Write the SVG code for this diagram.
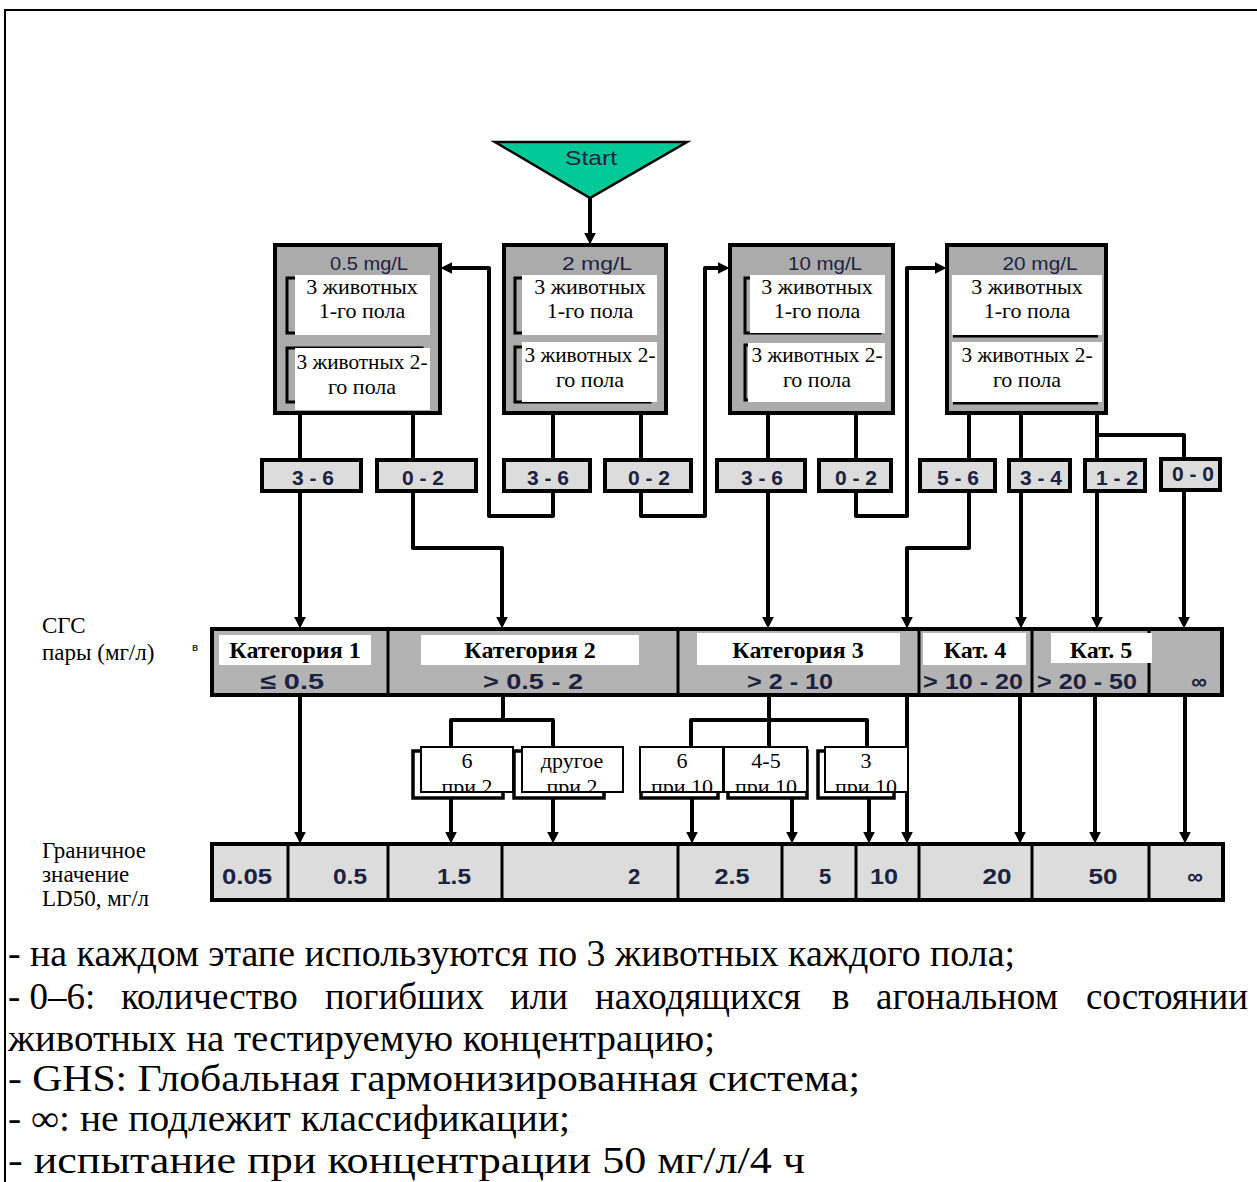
<svg xmlns="http://www.w3.org/2000/svg" width="1257" height="1182" viewBox="0 0 1257 1182">
<style>
.bg{fill:#ffffff}
.frame{fill:none;stroke:#000;stroke-width:2}
.box{fill:#ababab;stroke:#000;stroke-width:4}
.br{fill:none;stroke:#000;stroke-width:3}
.wh{fill:#ffffff;stroke:none}
.res{fill:#dcdcdc;stroke:#000;stroke-width:4}
.row{fill:#b3b3b3;stroke:#000;stroke-width:4}
.row2{fill:#dcdcdc;stroke:#000;stroke-width:4}
.div{stroke:#000;stroke-width:3}
.mfront{fill:#ffffff;stroke:#000;stroke-width:2}
.mback{fill:none;stroke:#000;stroke-width:3.5}
.con{fill:none;stroke:#000;stroke-width:4;stroke-linejoin:round}
.ser{font-family:"Liberation Serif","Times New Roman",serif;font-size:22px;fill:#000;text-anchor:middle}
.serl{font-family:"Liberation Serif","Times New Roman",serif;font-size:23px;fill:#000}
.catl{font-family:"Liberation Serif","Times New Roman",serif;font-size:24px;font-weight:bold;fill:#000;text-anchor:middle}
.sans{font-family:"Liberation Sans",Arial,sans-serif;fill:#1b2340;text-anchor:middle}
.ttl{font-size:18px}
.bs{font-size:21px;font-weight:bold}
.rg{font-size:22px;font-weight:bold}
.note{font-family:"Liberation Serif","Times New Roman",serif;font-size:37px;fill:#000}
</style>
<defs>
<marker id="ah" markerUnits="userSpaceOnUse" markerWidth="12" markerHeight="12" viewBox="0 0 10 10" refX="2" refY="5" orient="auto">
<path d="M0,0 L10,5 L0,10 z" fill="#000"/>
</marker>
<clipPath id="cA"><rect x="421" y="747" width="92" height="45"/></clipPath>
<clipPath id="cB"><rect x="522" y="747" width="101" height="45"/></clipPath>
<clipPath id="cC"><rect x="640" y="747" width="83" height="45"/></clipPath>
<clipPath id="cD"><rect x="724" y="747" width="83" height="45"/></clipPath>
<clipPath id="cE"><rect x="825" y="747" width="83" height="45"/></clipPath>
</defs>
<rect class="bg" x="0" y="0" width="1257" height="1182"/>
<path class="frame" d="M5,1182 V10 H1257"/>

<g id="connectors">
<path class="con" d="M590,198 V235" marker-end="url(#ah)"/>
<path class="con" d="M300,415 V458"/>
<path class="con" d="M413,415 V458"/>
<path class="con" d="M553,415 V458"/>
<path class="con" d="M641,415 V458"/>
<path class="con" d="M768,415 V458"/>
<path class="con" d="M856,415 V458"/>
<path class="con" d="M969,415 V458"/>
<path class="con" d="M1021,415 V458"/>
<path class="con" d="M1097,415 V458"/>
<path class="con" d="M1097,435 H1184 V457"/>
<path class="con" d="M553,493 V516 H489 V268 H450" marker-end="url(#ah)"/>
<path class="con" d="M641,493 V516 H705 V268 H720" marker-end="url(#ah)"/>
<path class="con" d="M856,493 V516 H907 V268 H937" marker-end="url(#ah)"/>
<path class="con" d="M300,493 V619" marker-end="url(#ah)"/>
<path class="con" d="M413,493 V548 H502 V619" marker-end="url(#ah)"/>
<path class="con" d="M768,493 V619" marker-end="url(#ah)"/>
<path class="con" d="M969,493 V548 H907 V619" marker-end="url(#ah)"/>
<path class="con" d="M1021,492 V619" marker-end="url(#ah)"/>
<path class="con" d="M1097,492 V619" marker-end="url(#ah)"/>
<path class="con" d="M1184,492 V619" marker-end="url(#ah)"/>
<path class="con" d="M300,697 V834" marker-end="url(#ah)"/>
<path class="con" d="M503,697 V720"/>
<path class="con" d="M451,750 V720 H553 V750"/>
<path class="con" d="M769,697 V750"/>
<path class="con" d="M691,750 V720 H867 V750"/>
<path class="con" d="M451,798 V834" marker-end="url(#ah)"/>
<path class="con" d="M553,798 V834" marker-end="url(#ah)"/>
<path class="con" d="M692,798 V834" marker-end="url(#ah)"/>
<path class="con" d="M792,798 V834" marker-end="url(#ah)"/>
<path class="con" d="M869,798 V834" marker-end="url(#ah)"/>
<path class="con" d="M907,697 V834" marker-end="url(#ah)"/>
<path class="con" d="M1020,697 V834" marker-end="url(#ah)"/>
<path class="con" d="M1095,697 V834" marker-end="url(#ah)"/>
<path class="con" d="M1185,697 V834" marker-end="url(#ah)"/>
</g>

<g id="start">
<path d="M495,142 L687,142 L590,198 Z" fill="#00c896" stroke="#000" stroke-width="2.5" stroke-linejoin="miter"/>
<text class="sans" x="591" y="165" font-size="21" textLength="52" lengthAdjust="spacingAndGlyphs">Start</text>
</g>

<g id="box-05">
<rect class="box" x="275" y="245" width="165" height="168"/>
<text class="sans ttl" x="369" y="270" textLength="78" lengthAdjust="spacingAndGlyphs">0.5 mg/L</text>
<rect class="br" x="287" y="278" width="135" height="55"/>
<rect class="wh" x="295" y="275" width="135" height="60"/>
<text class="ser" x="362" y="294">3 животных</text>
<text class="ser" x="362" y="318">1-го пола</text>
<rect class="br" x="287" y="348" width="135" height="54"/>
<rect class="wh" x="295" y="348" width="135" height="62"/>
<text class="ser" x="362" y="369" textLength="131" lengthAdjust="spacingAndGlyphs">3 животных 2-</text>
<text class="ser" x="362" y="394">го пола</text>
</g>

<g id="box-2">
<rect class="box" x="504" y="245" width="162" height="168"/>
<text class="sans ttl" x="597" y="270" textLength="70" lengthAdjust="spacingAndGlyphs">2  mg/L</text>
<rect class="br" x="515" y="278" width="135" height="55"/>
<rect class="wh" x="522" y="275" width="135" height="60"/>
<text class="ser" x="590" y="294">3 животных</text>
<text class="ser" x="590" y="318">1-го пола</text>
<rect class="br" x="515" y="347" width="135" height="55"/>
<rect class="wh" x="522" y="342" width="135" height="60"/>
<text class="ser" x="590" y="362" textLength="131" lengthAdjust="spacingAndGlyphs">3 животных 2-</text>
<text class="ser" x="590" y="387">го пола</text>
</g>

<g id="box-10">
<rect class="box" x="730" y="245" width="163" height="168"/>
<text class="sans ttl" x="825" y="270" textLength="74" lengthAdjust="spacingAndGlyphs">10 mg/L</text>
<rect class="br" x="745" y="278" width="135" height="55"/>
<rect class="wh" x="750" y="275" width="135" height="58"/>
<text class="ser" x="817" y="294">3 животных</text>
<text class="ser" x="817" y="318">1-го пола</text>
<rect class="br" x="745" y="345" width="135" height="55"/>
<rect class="wh" x="748" y="343" width="137" height="59"/>
<text class="ser" x="817" y="362" textLength="131" lengthAdjust="spacingAndGlyphs">3 животных 2-</text>
<text class="ser" x="817" y="387">го пола</text>
</g>

<g id="box-20">
<rect class="box" x="947" y="245" width="159" height="168"/>
<text class="sans ttl" x="1040" y="270" textLength="75" lengthAdjust="spacingAndGlyphs">20 mg/L</text>
<path d="M953,336 H1098" stroke="#000" stroke-width="3"/>
<rect class="wh" x="952" y="275" width="150" height="60"/>
<text class="ser" x="1027" y="294">3 животных</text>
<text class="ser" x="1027" y="318">1-го пола</text>
<path d="M953,403 H1098" stroke="#000" stroke-width="3"/>
<rect class="wh" x="952" y="342" width="150" height="60"/>
<text class="ser" x="1027" y="362" textLength="131" lengthAdjust="spacingAndGlyphs">3 животных 2-</text>
<text class="ser" x="1027" y="387">го пола</text>
</g>

<g id="results">
<g id="r1"><rect class="res" x="262" y="460" width="99" height="31"/><text class="sans bs" x="313" y="485">3 - 6</text></g>
<g id="r2"><rect class="res" x="377" y="460" width="99" height="31"/><text class="sans bs" x="423" y="485">0 - 2</text></g>
<g id="r3"><rect class="res" x="504" y="460" width="86" height="31"/><text class="sans bs" x="548" y="485">3 - 6</text></g>
<g id="r4"><rect class="res" x="605" y="460" width="86" height="31"/><text class="sans bs" x="649" y="485">0 - 2</text></g>
<g id="r5"><rect class="res" x="717" y="460" width="88" height="31"/><text class="sans bs" x="762" y="485">3 - 6</text></g>
<g id="r6"><rect class="res" x="819" y="460" width="72" height="31"/><text class="sans bs" x="856" y="485">0 - 2</text></g>
<g id="r7"><rect class="res" x="920" y="460" width="75" height="31"/><text class="sans bs" x="958" y="485">5 - 6</text></g>
<g id="r8"><rect class="res" x="1009" y="460" width="61" height="31"/><text class="sans bs" x="1041" y="485">3 - 4</text></g>
<g id="r9"><rect class="res" x="1085" y="460" width="60" height="31"/><text class="sans bs" x="1117" y="485">1 - 2</text></g>
<g id="r10"><rect class="res" x="1161" y="459" width="59" height="31"/><text class="sans bs" x="1193" y="481">0 - 0</text></g>
</g>

<g id="labels-left">
<text class="serl" x="42" y="633">СГС</text>
<text class="serl" x="42" y="660">пары (мг/л)</text>
<text class="serl" x="42" y="858">Граничное</text>
<text class="serl" x="42" y="882">значение</text>
<text class="serl" x="42" y="906">LD50, мг/л</text>
<text x="192" y="651" font-family="Liberation Sans,Arial,sans-serif" font-size="10" font-weight="bold" fill="#333">в</text>
</g>

<g id="categories">
<rect class="row" x="212" y="629" width="1010" height="66"/>
<line class="div" x1="388" y1="629" x2="388" y2="695"/>
<line class="div" x1="678" y1="629" x2="678" y2="695"/>
<line class="div" x1="919" y1="629" x2="919" y2="695"/>
<line class="div" x1="1032" y1="629" x2="1032" y2="695"/>
<line class="div" x1="1149" y1="629" x2="1149" y2="695"/>
<rect class="wh" x="219" y="635" width="152" height="30"/>
<rect class="wh" x="421" y="635" width="218" height="30"/>
<rect class="wh" x="697" y="633" width="203" height="32"/>
<rect class="wh" x="923" y="633" width="103" height="32"/>
<rect class="wh" x="1051" y="633" width="101" height="30"/>
<text class="catl" x="295" y="658">Категория 1</text>
<text class="catl" x="530" y="658">Категория 2</text>
<text class="catl" x="798" y="658">Категория 3</text>
<text class="catl" x="975" y="658">Кат. 4</text>
<text class="catl" x="1101" y="658">Кат. 5</text>
<text class="sans rg" x="292" y="689" textLength="64" lengthAdjust="spacingAndGlyphs">≤ 0.5</text>
<text class="sans rg" x="533" y="689" textLength="100" lengthAdjust="spacingAndGlyphs">&gt; 0.5 - 2</text>
<text class="sans rg" x="790" y="689" textLength="86" lengthAdjust="spacingAndGlyphs">&gt; 2 - 10</text>
<text class="sans rg" x="973" y="689" textLength="100" lengthAdjust="spacingAndGlyphs">&gt; 10 - 20</text>
<text class="sans rg" x="1087" y="689" textLength="100" lengthAdjust="spacingAndGlyphs">&gt; 20 - 50</text>
<text class="sans rg" x="1199" y="689">∞</text>
</g>

<g id="mid-boxes">
<g id="m1"><rect class="mback" x="413" y="751" width="90" height="47"/><rect class="mfront" x="421" y="747" width="92" height="45"/>
<text class="ser" x="467" y="768">6</text><text class="ser" x="467" y="794" clip-path="url(#cA)">при 2</text></g>
<g id="m2"><rect class="mback" x="514" y="751" width="90" height="47"/><rect class="mfront" x="522" y="747" width="101" height="45"/>
<text class="ser" x="572" y="768">другое</text><text class="ser" x="572" y="794" clip-path="url(#cB)">при 2</text></g>
<g id="m3"><rect class="mback" x="641" y="751" width="77" height="47"/><rect class="mfront" x="640" y="747" width="83" height="45"/>
<text class="ser" x="682" y="768">6</text><text class="ser" x="682" y="794" clip-path="url(#cC)">при 10</text></g>
<g id="m4"><rect class="mback" x="728" y="751" width="79" height="47"/><rect class="mfront" x="724" y="747" width="83" height="45"/>
<text class="ser" x="766" y="768">4-5</text><text class="ser" x="766" y="794" clip-path="url(#cD)">при 10</text></g>
<g id="m5"><rect class="mback" x="818" y="751" width="76" height="47"/><rect class="mfront" x="825" y="747" width="83" height="45"/>
<text class="ser" x="866" y="768">3</text><text class="ser" x="866" y="794" clip-path="url(#cE)">при 10</text></g>
</g>

<g id="ld50-row">
<rect class="row2" x="212" y="844" width="1011" height="56"/>
<line class="div" x1="288" y1="844" x2="288" y2="900"/>
<line class="div" x1="388" y1="844" x2="388" y2="900"/>
<line class="div" x1="502" y1="844" x2="502" y2="900"/>
<line class="div" x1="678" y1="844" x2="678" y2="900"/>
<line class="div" x1="782" y1="844" x2="782" y2="900"/>
<line class="div" x1="856" y1="844" x2="856" y2="900"/>
<line class="div" x1="919" y1="844" x2="919" y2="900"/>
<line class="div" x1="1032" y1="844" x2="1032" y2="900"/>
<line class="div" x1="1149" y1="844" x2="1149" y2="900"/>
<text class="sans rg" x="247" y="884" textLength="50" lengthAdjust="spacingAndGlyphs">0.05</text>
<text class="sans rg" x="350" y="884" textLength="34" lengthAdjust="spacingAndGlyphs">0.5</text>
<text class="sans rg" x="454" y="884" textLength="34" lengthAdjust="spacingAndGlyphs">1.5</text>
<text class="sans rg" x="634" y="884">2</text>
<text class="sans rg" x="732" y="884" textLength="35" lengthAdjust="spacingAndGlyphs">2.5</text>
<text class="sans rg" x="825" y="884">5</text>
<text class="sans rg" x="884" y="884" textLength="28" lengthAdjust="spacingAndGlyphs">10</text>
<text class="sans rg" x="997" y="884" textLength="29" lengthAdjust="spacingAndGlyphs">20</text>
<text class="sans rg" x="1103" y="884" textLength="29" lengthAdjust="spacingAndGlyphs">50</text>
<text class="sans rg" x="1195" y="884">∞</text>
</g>

<g id="notes">
<text class="note" x="8" y="966" textLength="1007" lengthAdjust="spacingAndGlyphs">- на каждом этапе используются по 3 животных каждого пола;</text>
<text class="note" y="1009"><tspan x="8">- 0–6:</tspan><tspan x="121">количество</tspan><tspan x="325">погибших</tspan><tspan x="510">или</tspan><tspan x="595">находящихся</tspan><tspan x="832">в</tspan><tspan x="876">агональном</tspan><tspan x="1086">состоянии</tspan></text>
<text class="note" x="8" y="1051" textLength="707" lengthAdjust="spacingAndGlyphs">животных на тестируемую концентрацию;</text>
<text class="note" x="8" y="1091" textLength="852" lengthAdjust="spacingAndGlyphs">- GHS: Глобальная гармонизированная система;</text>
<text class="note" x="8" y="1131" textLength="562" lengthAdjust="spacingAndGlyphs">- ∞: не подлежит классификации;</text>
<text class="note" x="8" y="1173" textLength="797" lengthAdjust="spacingAndGlyphs">- испытание при концентрации 50 мг/л/4 ч</text>
</g>
</svg>
